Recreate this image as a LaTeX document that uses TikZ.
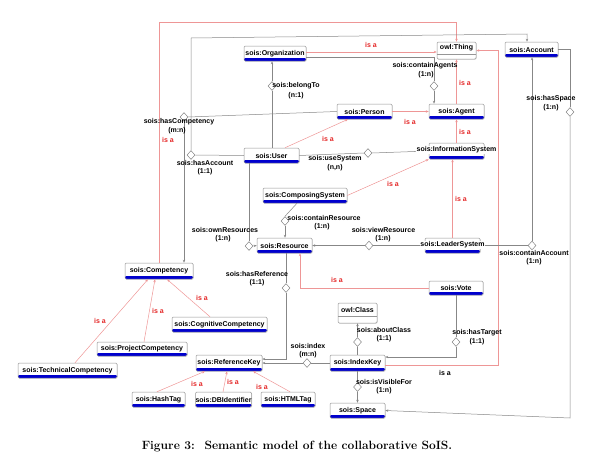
\documentclass[tikz,border=0pt]{standalone}
\usepackage{fontspec}
\newfontfamily\labfont{Liberation Sans}
\usetikzlibrary{shapes.geometric,arrows.meta,shadows}
\definecolor{barblue}{RGB}{0,0,205}
\definecolor{lgray}{RGB}{135,135,135}
\definecolor{boxgray}{RGB}{150,150,150}
\definecolor{isaline}{RGB}{238,150,150}
\definecolor{isatext}{RGB}{228,40,40}
\tikzset{
  boxbase/.style={draw=boxgray, fill=white, rounded corners=1.2pt, line width=0.5pt, inner sep=0pt,
    font=\labfont\bfseries\fontsize{7}{8}\selectfont,
    drop shadow={shadow xshift=0.7pt, shadow yshift=-0.7pt, opacity=0.3}},
  cls/.style={boxbase, path picture={\fill[barblue] (path picture bounding box.south west) rectangle ([yshift=3pt]path picture bounding box.south east);}},
  owlbox/.style={boxbase},
  dia/.style={diamond, draw=lgray, fill=white, line width=0.5pt, minimum width=8pt, minimum height=9pt, inner sep=0pt},
  assoc/.style={draw=lgray, line width=0.5pt},
  arr/.style={-{Stealth[length=3pt,width=2.4pt]}},
  isa/.style={draw=isaline, color=isaline, line width=0.5pt, -{Stealth[length=3pt,width=2.4pt]}},
  lbl/.style={font=\labfont\bfseries\fontsize{7}{8}\selectfont, inner sep=0pt, text=black},
  isalbl/.style={lbl, text=isatext},
}
\begin{document}
\begin{tikzpicture}[x=1pt,y=-1pt]
\useasboundingbox (0,0) rectangle (593,466);
% boxes
\node[cls, minimum width=62pt, minimum height=15pt] (org) at (275,53.5) {sois:Organization};
\node[owlbox, minimum width=39pt, minimum height=17pt] (thing) at (456.5,50.5) {};
\node[cls, minimum width=53pt, minimum height=15pt] (account) at (531.5,49.5) {sois:Account};
\node[cls, minimum width=55pt, minimum height=15pt] (person) at (364.5,111.5) {sois:Person};
\node[cls, minimum width=55pt, minimum height=15pt] (agent) at (456.5,111.5) {sois:Agent};
\node[cls, minimum width=55pt, minimum height=15pt] (user) at (271.5,155.5) {sois:User};
\node[cls, minimum width=55pt, minimum height=16pt] (infosys) at (456.5,151) {};
\node[cls, minimum width=84pt, minimum height=15pt] (composing) at (305,195.5) {sois:ComposingSystem};
\node[cls, minimum width=55pt, minimum height=15pt] (resource) at (284.5,245.5) {sois:Resource};
\node[cls, minimum width=55pt, minimum height=15pt] (leader) at (452.5,245.5) {};
\node[cls, minimum width=68pt, minimum height=16pt] (comp) at (159,271) {sois:Competency};
\node[cls, minimum width=95pt, minimum height=15pt] (cog) at (219.5,324.5) {sois:CognitiveCompetency};
\node[cls, minimum width=90pt, minimum height=14pt] (proj) at (142,349) {sois:ProjectCompetency};
\node[cls, minimum width=99pt, minimum height=15pt] (tech) at (67.5,370.5) {sois:TechnicalCompetency};
\node[cls, minimum width=66pt, minimum height=16pt] (ref) at (229,363) {sois:ReferenceKey};
\node[cls, minimum width=53pt, minimum height=15pt] (hash) at (158.5,399.5) {sois:HashTag};
\node[cls, minimum width=55pt, minimum height=15pt] (db) at (223.5,399.5) {sois:DBIdentifier};
\node[cls, minimum width=54pt, minimum height=15pt] (html) at (288,399.5) {sois:HTMLTag};
\node[cls, minimum width=54pt, minimum height=14pt] (vote) at (456,288) {sois:Vote};
\node[owlbox, minimum width=39pt, minimum height=20pt] (owlclass) at (357.5,313) {};
\node[cls, minimum width=55pt, minimum height=16pt] (idx) at (357.5,363) {sois:IndexKey};
\node[cls, minimum width=55pt, minimum height=15pt] (space) at (357.5,410.5) {sois:Space};
\node[lbl] (thingT) at (456.5,48) {owl:Thing};
\node[lbl] (classT) at (357.5,309.5) {owl:Class};
\draw[draw=boxgray, line width=0.4pt] ([yshift=5pt]thing.south west) -- ([yshift=5pt]thing.south east);
\draw[draw=boxgray, line width=0.4pt] ([yshift=7pt]owlclass.south west) -- ([yshift=7pt]owlclass.south east);
% diamonds
\node[dia] (dCA) at (434,86) {};
\node[dia] (dBT) at (272,86) {};
\node[dia] (dHC) at (184,117) {};
\node[dia] (dHA) at (191,155) {};
\node[dia] (dUS) at (368,153) {};
\node[dia] (dCR) at (285,221) {};
\node[dia] (dOR) at (249,246) {};
\node[dia] (dVR) at (369,245.5) {};
\node[dia] (dCAc) at (532,245.5) {};
\node[dia] (dHS) at (570,112) {};
\node[dia] (dHR) at (286,288) {};
\node[dia] (dIX) at (307,363) {};
\node[dia] (dAC) at (357.5,342) {};
\node[dia] (dHT) at (456,342) {};
\node[dia] (dIV) at (357.5,387) {};
% is-a lines
\coordinate (isatop) at (159,22);
\coordinate (rc1) at (498,365);
\draw[isa] (person.east) -- (agent.west);
\draw[isa] (agent.north) -- (thing.south);
\draw[isa] (infosys.north) -- (agent.south);
\draw[isa] ([xshift=13.5pt]user.north) -- ([xshift=-16.5pt]person.south);
\draw[isa] (composing.east) -- (infosys.south west);
\draw[isa] (leader.north) -- (leader.north |- infosys.south);
\draw[isa] (vote.west) -| ([xshift=15.5pt]resource.south);
\draw[isa] (comp.north) -- (isatop) -| (thing.north);
\draw[isa] ([yshift=1.5pt]org.east) -- ([yshift=-1.5pt]thing.west);
\draw[isa] ([yshift=-2pt]idx.east) -- (rc1) |- (thing.east);
\draw[isa] ([xshift=-9.5pt]cog.north) -- ([xshift=8pt]comp.south);
\draw[isa] ([xshift=2pt]proj.north) -- ([xshift=-4pt]comp.south);
\draw[isa] ([xshift=7.5pt]tech.north) -- ([xshift=-11pt]comp.south);
\draw[isa] ([xshift=-1.5pt]hash.north) -- ([xshift=-24pt]ref.south);
\draw[isa] ([xshift=-0.5pt]db.north) -- ([xshift=-2pt]ref.south);
\draw[isa] ([xshift=2pt]html.north) -- ([xshift=24pt]ref.south);
% associations
\coordinate (ha1) at (191,38);
\coordinate (ha2) at (527,34);
\coordinate (hs1) at (570,418);
\draw[assoc] ([yshift=-3.5pt]org.east) -| (dCA.north);
\draw[assoc,arr] (dCA.south) -- (dCA.south |- agent.north);
\draw[assoc] (dBT.south |- user.north) -- (dBT.south);
\draw[assoc,arr] (dBT.north) -- (dBT.north |- org.south);
\draw[assoc] (person.west) -- (dHC.east);
\draw[assoc,arr] (dHC.south) -- (dHC.south |- comp.north);
\draw[assoc] (user.west) -- (dHA.east);
\draw[assoc,arr] (dHA.north) -- (ha1) -- (ha2) -- (ha2 |- account.north);
\draw[assoc] (user.east) -- (dUS.west);
\draw[assoc,arr] (dUS.east) -- (infosys.west);
\draw[assoc] ([xshift=-8pt]composing.south) -- (dCR.north);
\draw[assoc,arr] (dCR.south) -- (dCR.south |- resource.north);
\draw[assoc] (dOR.north |- user.south) -- (dOR.north);
\draw[assoc,arr] (dOR.east) -- (resource.west);
\draw[assoc] (leader.west) -- (dVR.east);
\draw[assoc,arr] (dVR.west) -- (resource.east);
\draw[assoc] (leader.east) -- (dCAc.west);
\draw[assoc,arr] (dCAc.north) -- (dCAc.north |- account.south);
\draw[assoc] (account.east) -| (dHS.north);
\draw[assoc,arr] (dHS.south) -- (hs1) -- (space.east);
\draw[assoc] (dHR.north |- resource.south) -- (dHR.north);
\draw[assoc,arr] (dHR.south) |- ([yshift=4pt]ref.east);
\draw[assoc] (idx.west) -- (dIX.east);
\draw[assoc,arr] (dIX.west) -- (ref.east);
\draw[assoc] (idx.north) -- (dAC.south);
\draw[assoc,arr] (dAC.north) -- (owlclass.south);
\draw[assoc] (vote.south) -- (dHT.north);
\draw[assoc,arr] (dHT.south) |- ([yshift=6pt]idx.east);
\draw[assoc] (idx.south) -- (dIV.north);
\draw[assoc,arr] (dIV.south) -- (space.north);
% overflowing box texts
\node[lbl, fill=white, inner sep=0.3pt] (infosysT) at (456.5,150) {sois:InformationSystem};
\node[lbl, fill=white, inner sep=0.3pt] (leaderT) at (452.5,245) {sois:LeaderSystem};
% is-a labels
\node[isalbl] (i1) at (410,122) {is a};
\node[isalbl] (i2) at (465,83) {is a};
\node[isalbl] (i3) at (465,132) {is a};
\node[isalbl] (i4) at (328,139) {is a};
\node[isalbl] (i5) at (393,184) {is a};
\node[isalbl] (i6) at (461,199) {is a};
\node[isalbl] (i7) at (337,280) {is a};
\node[isalbl] (i8) at (168,140) {is a};
\node[isalbl] (i9) at (371,45) {is a};
\node[lbl] (i10) at (445,373) {is a};
\node[isalbl] (i11) at (202,298) {is a};
\node[isalbl] (i12) at (158,311) {is a};
\node[isalbl] (i13) at (100,321) {is a};
\node[isalbl] (i14) at (197,384) {is a};
\node[isalbl] (i15) at (233,382) {is a};
\node[isalbl] (i16) at (262,387) {is a};
% association labels
\node[lbl] (a1) at (425,66) {sois:containAgents};
\node[lbl] (a1m) at (426,75) {(1:n)};
\node[lbl] (a2) at (296,86) {sois:belongTo};
\node[lbl] (a2m) at (296,96) {(n:1)};
\node[lbl] (a3) at (179,122) {sois:hasCompetency};
\node[lbl] (a3m) at (177,131) {(m:n)};
\node[lbl] (a4) at (205,163) {sois:hasAccount};
\node[lbl] (a4m) at (205,172) {(1:1)};
\node[lbl] (a5) at (335,159) {sois:useSystem};
\node[lbl] (a5m) at (335,168) {(n,n)};
\node[lbl] (a6) at (324,218) {sois:containResource};
\node[lbl] (a6m) at (322,227) {(1:n)};
\node[lbl] (a7) at (225,230) {sois:ownResources};
\node[lbl] (a7m) at (223,239) {(1:n)};
\node[lbl] (a8) at (383.5,230) {sois:viewResource};
\node[lbl] (a8m) at (383,239) {(1:n)};
\node[lbl] (a9) at (534,253) {sois:containAccount};
\node[lbl] (a9m) at (534,262) {(1:n)};
\node[lbl] (a10) at (551,99) {sois:hasSpace};
\node[lbl] (a10m) at (551,108) {(1:n)};
\node[lbl] (a11) at (257,274) {sois:hasReference};
\node[lbl] (a11m) at (257,283) {(1:1)};
\node[lbl] (a12) at (308,346) {sois:index};
\node[lbl] (a12m) at (308,355) {(m:n)};
\node[lbl] (a13) at (384,330) {sois:aboutClass};
\node[lbl] (a13m) at (384,339) {(1:1)};
\node[lbl] (a14) at (477,333) {sois:hasTarget};
\node[lbl] (a14m) at (477,342) {(1:1)};
\node[lbl] (a15) at (384,382) {sois:isVisibleFor};
\node[lbl] (a15m) at (384,391) {(1:n)};
% caption
\node[font=\bfseries\fontsize{12}{14}\selectfont, inner sep=0pt] (cap) at (297,446) {Figure 3:\hspace{0.8em}Semantic model of the collaborative SoIS.};
\end{tikzpicture}
\end{document}
